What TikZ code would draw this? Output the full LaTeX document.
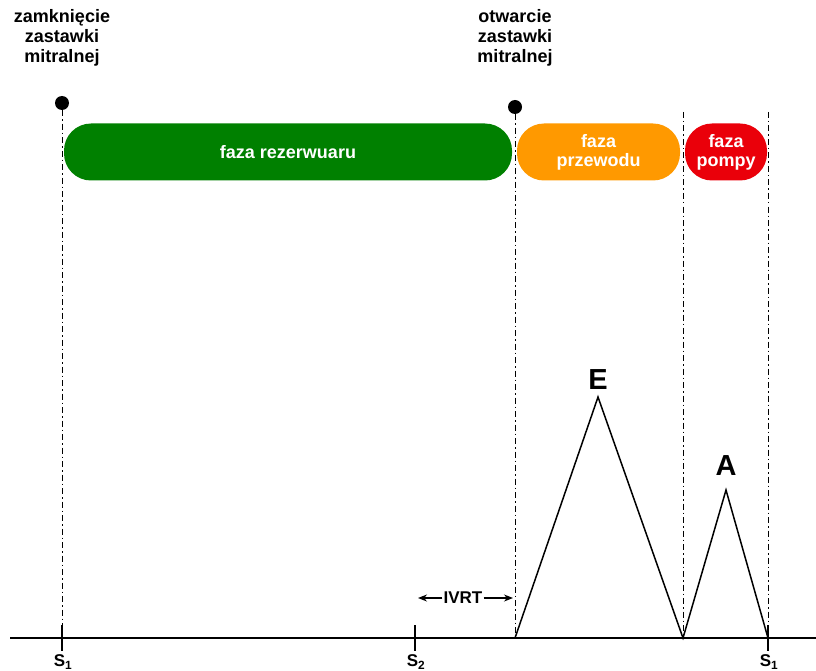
\documentclass[tikz,border=0pt]{standalone}
\usepackage{fontspec}
\setmainfont{Liberation Sans}
\usetikzlibrary{arrows.meta}
\definecolor{zielony}{RGB}{0,128,0}
\definecolor{pomar}{RGB}{255,153,0}
\definecolor{czerw}{RGB}{234,0,10}
\tikzset{
  faza/.style={rounded corners=27pt, minimum height=57pt, inner sep=0pt,
    text=white, font=\fontsize{18}{19}\selectfont\bfseries, align=center},
  opis/.style={font=\fontsize{18}{20}\selectfont\bfseries, align=center},
  pion/.style={dash pattern=on 6pt off 3pt on 1.5pt off 3pt, line width=1pt},
  os/.style={line width=2.4pt},
  tick/.style={line width=2.4pt},
  etyk/.style={font=\fontsize{17}{17}\selectfont\bfseries}
}
\begin{document}
\begin{tikzpicture}[x=1pt, y=-1pt]
  \useasboundingbox (0,0) rectangle (816,671);
  % zastawki
  \node [opis] (zamk) at (62,38) {zamknięcie\\zastawki\\mitralnej};
  \node [opis] (otw) at (515,38) {otwarcie\\zastawki\\mitralnej};
  \node [circle, fill, inner sep=0pt, minimum size=14pt] (d1) at (62,103) {};
  \node [circle, fill, inner sep=0pt, minimum size=14pt] (d2) at (515,107) {};
  % fazy
  \node [faza, fill=zielony, minimum width=448pt] (rez) at (288,152) {faza rezerwuaru};
  \node [faza, fill=pomar, minimum width=163pt] (prz) at (598.5,152) {faza\\przewodu};
  \node [faza, fill=czerw, minimum width=82pt] (pom) at (726,152) {faza\\pompy};
  % os czasu
  \coordinate (a0) at (10,638);
  \coordinate (a1) at (816,638);
  \coordinate (s1) at (62,638);
  \coordinate (s2) at (415,638);
  \coordinate (s3) at (768,638);
  \coordinate (mo) at (515,638);
  \coordinate (ea) at (683,638);
  \coordinate (p3) at (683,112);
  \coordinate (p4) at (768,112);
  \draw [pion] (d1) -- (s1);
  \draw [pion] (d2) -- (mo);
  \draw [pion] (p3) -- (ea);
  \draw [pion] (p4) -- (s3);
  \draw [os] (a0) -- (a1);
  \draw [tick] (62,625) -- (62,651);
  \draw [tick] (415,625) -- (415,651);
  \draw [tick] (768,625) -- (768,651);
  \node [etyk] (l1) at (63,662) {S\textsubscript{1}};
  \node [etyk] (l2) at (416,662) {S\textsubscript{2}};
  \node [etyk] (l3) at (769,662) {S\textsubscript{1}};
  % fale E i A
  \coordinate (e) at (598,397);
  \coordinate (a) at (726,490);
  \draw [line width=1.5pt] (mo) -- (e) -- (ea) -- (a) -- (s3);
  \node [font=\fontsize{29}{29}\selectfont\bfseries] (le) at (598,380) {E};
  \node [font=\fontsize{29}{29}\selectfont\bfseries] (la) at (726,466) {A};
  % IVRT
  \node [font=\fontsize{17}{17}\selectfont\bfseries, inner sep=1pt] (ivrt) at (463,598) {IVRT};
  \coordinate (i0) at (418,598);
  \coordinate (i1) at (513,598);
  \draw [-{Stealth[length=9pt,width=7pt]}, line width=1.3pt] (ivrt) -- (i0);
  \draw [-{Stealth[length=9pt,width=7pt]}, line width=1.3pt] (ivrt) -- (i1);
\end{tikzpicture}
\end{document}
